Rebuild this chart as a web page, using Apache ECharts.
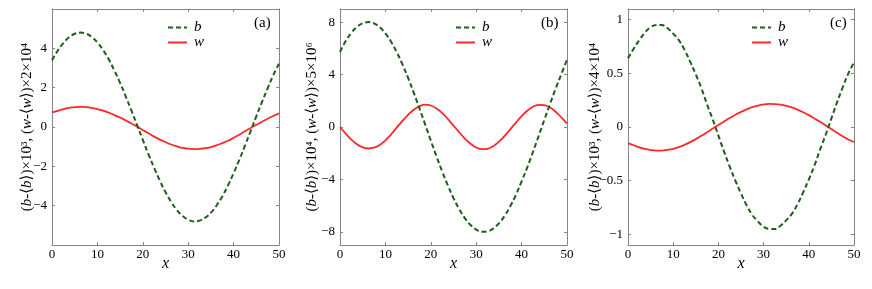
<!DOCTYPE html>
<html>
<head>
<meta charset="utf-8">
<script src="https://cdn.jsdelivr.net/npm/echarts@6/dist/echarts.min.js"></script>
<style>
html,body{margin:0;padding:0;background:#fff;}
#chart{width:872px;height:289px;}
</style>
</head>
<body>
<div id="chart"></div>
<script>
// ---- Data ----
const xs = [0,1.25,2.5,3.75,5,6.25,7.5,8.75,10,11.25,12.5,13.75,15,16.25,17.5,18.75,20,21.25,22.5,23.75,25,26.25,27.5,28.75,30,31.25,32.5,33.75,35,36.25,37.5,38.75,40,41.25,42.5,43.75,45,46.25,47.5,48.75,50];

const bA = [3.39,3.88,4.27,4.56,4.74,4.80,4.75,4.58,4.30,3.91,3.44,2.87,2.24,1.55,0.83,0.09,-0.66,-1.39,-2.08,-2.73,-3.31,-3.81,-4.22,-4.52,-4.72,-4.80,-4.76,-4.61,-4.36,-3.99,-3.53,-2.98,-2.35,-1.67,-0.95,-0.21,0.54,1.27,1.97,2.64,3.22];
const wA = [0.74,0.82,0.91,0.97,1.01,1.02,1.01,0.97,0.91,0.83,0.73,0.61,0.48,0.33,0.18,0.02,-0.15,-0.32,-0.49,-0.64,-0.77,-0.89,-0.98,-1.06,-1.10,-1.12,-1.11,-1.08,-1.02,-0.93,-0.82,-0.70,-0.55,-0.39,-0.22,-0.05,0.11,0.27,0.42,0.56,0.69];

const bB = [5.72,6.56,7.18,7.64,7.91,8.00,7.90,7.61,7.14,6.50,5.71,4.78,3.74,2.61,1.42,0.20,-1.03,-2.24,-3.39,-4.46,-5.42,-6.26,-6.95,-7.48,-7.82,-7.99,-7.96,-7.74,-7.35,-6.78,-6.05,-5.18,-4.15,-3.08,-1.90,-0.69,0.54,1.75,2.93,4.02,5.15];
const wB = [0.0,-0.50,-0.96,-1.31,-1.55,-1.64,-1.58,-1.37,-1.02,-0.56,-0.05,0.46,0.93,1.32,1.58,1.70,1.64,1.42,1.08,0.62,0.11,-0.40,-0.88,-1.28,-1.56,-1.69,-1.66,-1.46,-1.12,-0.68,-0.18,0.34,0.83,1.24,1.55,1.69,1.67,1.48,1.16,0.73,0.26];

const bC = [0.64,0.73,0.81,0.88,0.93,0.95,0.95,0.92,0.87,0.81,0.72,0.61,0.49,0.36,0.21,0.07,-0.08,-0.23,-0.37,-0.50,-0.62,-0.73,-0.82,-0.88,-0.93,-0.95,-0.95,-0.92,-0.87,-0.81,-0.72,-0.61,-0.49,-0.36,-0.21,-0.07,0.08,0.23,0.37,0.50,0.60];
const wC = [-0.15,-0.17,-0.19,-0.205,-0.215,-0.22,-0.22,-0.213,-0.203,-0.187,-0.166,-0.141,-0.113,-0.082,-0.049,-0.015,0.019,0.052,0.084,0.114,0.141,0.165,0.185,0.200,0.210,0.215,0.214,0.209,0.198,0.182,0.162,0.138,0.111,0.080,0.048,0.015,-0.019,-0.053,-0.086,-0.117,-0.14];

const xTicks = [0,10,20,30,40,50];
const yTicksA = [-4,-2,0,2,4];
const yTicksB = [-8,-4,0,4,8];
const yTicksC = [-1,-0.5,0,0.5,1];
const yRanges = [[-6,6],[-9,9],[-1.1,1.1]];
const yNames = [
  '({i|b}-⟨{i|b}⟩)×10³, ({i|w}-⟨{i|w}⟩)×2×10⁴',
  '({i|b}-⟨{i|b}⟩)×10⁴, ({i|w}-⟨{i|w}⟩)×5×10⁶',
  '({i|b}-⟨{i|b}⟩)×10³, ({i|w}-⟨{i|w}⟩)×4×10⁴'
];
const panelLabels = ['(a)','(b)','(c)'];

// ---- Styling / layout ----
const FONT = "'Liberation Serif','DejaVu Serif',serif";
const FRAME = '#858585';
const GREEN = '#1f5e1a';
const RED = '#ff2828';
const grids = [
  {left:52, top:9, width:227, height:236},
  {left:340, top:9, width:227, height:236},
  {left:628, top:9, width:226, height:236}
];
const nameGaps = [17, 20, 25];
const yTickSets = [yTicksA, yTicksB, yTicksC];
const legendPos = [{left:167, top:20}, {left:455, top:20}, {left:751, top:20}];
const labelPos = [{left:254, top:16}, {left:541, top:16}, {left:830, top:16}];

function fmt(v){ return String(v).replace('-', '−'); }
function pairs(x, y){ return x.map((v,i)=>[v, y[i]]); }

const xAxis = [], yAxis = [], series = [], legend = [], graphic = [];
grids.forEach((g, k) => {
  xAxis.push({
    type:'value', gridIndex:k, min:0, max:50, interval:10, position:'bottom',
    name:'x', nameLocation:'middle', nameGap:11, nameMoveOverlap:false,
    nameTextStyle:{fontFamily:FONT, fontStyle:'italic', fontSize:16, color:'#000', verticalAlign:'top'},
    axisLine:{show:true, onZero:false, lineStyle:{color:FRAME, width:1}},
    axisTick:{show:true, inside:true, length:3, lineStyle:{color:FRAME}},
    axisLabel:{fontFamily:FONT, fontSize:13, color:'#000', margin:3, formatter:fmt},
    splitLine:{show:false}
  });
  xAxis.push({
    type:'value', gridIndex:k, min:0, max:50, interval:10, position:'top',
    axisLine:{show:true, onZero:false, lineStyle:{color:FRAME, width:1}},
    axisTick:{show:true, inside:true, length:3, lineStyle:{color:FRAME}},
    axisLabel:{show:false}, splitLine:{show:false}
  });
  const [mn, mx] = yRanges[k];
  yAxis.push({
    type:'value', gridIndex:k, min:mn, max:mx, position:'left',
    name:yNames[k], nameLocation:'middle', nameGap:nameGaps[k], nameRotate:90, nameMoveOverlap:false,
    nameTextStyle:{fontFamily:FONT, fontSize:15, color:'#000',
      rich:{i:{fontFamily:FONT, fontStyle:'italic', fontSize:15, color:'#000'}}},
    axisLine:{show:true, onZero:false, lineStyle:{color:FRAME, width:1}},
    axisTick:{show:true, inside:true, length:3, lineStyle:{color:FRAME}, customValues:yTickSets[k]},
    axisLabel:{fontFamily:FONT, fontSize:13, color:'#000', margin:5, formatter:fmt, customValues:yTickSets[k]},
    splitLine:{show:false}
  });
  yAxis.push({
    type:'value', gridIndex:k, min:mn, max:mx, position:'right',
    axisLine:{show:true, onZero:false, lineStyle:{color:FRAME, width:1}},
    axisTick:{show:true, inside:true, length:3, lineStyle:{color:FRAME}, customValues:yTickSets[k]},
    axisLabel:{show:false}, splitLine:{show:false}
  });
  legend.push({
    orient:'vertical', left:legendPos[k].left, top:legendPos[k].top,
    itemWidth:19, itemHeight:10, itemGap:0, padding:0,
    data:['b','w'], selectedMode:false,
    itemStyle:{opacity:0},
    textStyle:{fontFamily:FONT, fontStyle:'italic', fontSize:15, color:'#000', padding:[0,0,0,2]}
  });
  graphic.push({
    type:'text', left:labelPos[k].left, top:labelPos[k].top,
    style:{text:panelLabels[k], font:"15px 'Liberation Serif', serif", fill:'#000'}
  });
});

const bData = [pairs(xs,bA), pairs(xs,bB), pairs(xs,bC)];
const wData = [pairs(xs,wA), pairs(xs,wB), pairs(xs,wC)];
for (let k=0;k<3;k++){
  series.push({
    name:'b', type:'line', xAxisIndex:2*k, yAxisIndex:2*k, data:bData[k],
    smooth:0.4, symbol:'none', z:3,
    lineStyle:{color:GREEN, width:2, type:[5,3]}, itemStyle:{color:GREEN}
  });
  series.push({
    name:'w', type:'line', xAxisIndex:2*k, yAxisIndex:2*k, data:wData[k],
    smooth:0.4, symbol:'none', z:2,
    lineStyle:{color:RED, width:1.8}, itemStyle:{color:RED}
  });
}

const chart = echarts.init(document.getElementById('chart'), null, {renderer:'canvas'});
chart.setOption({
  animation:false,
  backgroundColor:'#fff',
  grid:grids,
  xAxis, yAxis, series, legend, graphic
});
</script>
</body>
</html>
